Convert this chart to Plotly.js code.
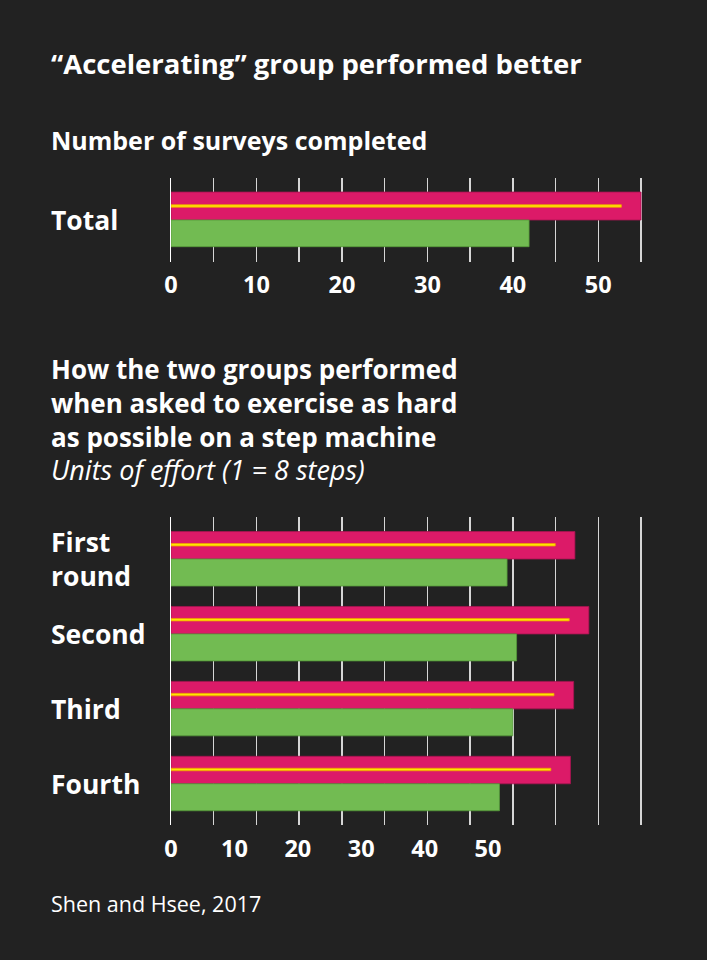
<!DOCTYPE html>
<html>
<head>
<meta charset="utf-8">
<script src="https://cdn.plot.ly/plotly-3.0.1.min.js"></script>
<style>
  html, body { margin: 0; padding: 0; background: #222222; }
  #chart { width: 707px; height: 960px; }
</style>
</head>
<body>
<div id="chart"></div>
<script>
// survey panel
var surveyCats = ['Total'];
var surveyAccel = [55];
var surveyInner = [52.7];
var surveyLinear = [41.9];
var surveyTicks = [0, 10, 20, 30, 40, 50];

// step machine panel (units of effort)
var rounds = ['First<br>round', 'Second', 'Third', 'Fourth'];
var effortAccel = [63.7, 65.9, 63.5, 63.0];
var effortInner = [60.6, 62.8, 60.4, 59.9];
var effortLinear = [53.0, 54.5, 53.9, 51.8];
var effortTicks = [0, 10, 20, 30, 40, 50];

var W = 707, H = 960;
function px(x) { return x / W; }
function py(y) { return 1 - y / H; }

var pink = '#dc1a68', green = '#72bb52', yellow = '#ffe600';
var gridCol = '#d6d6d6';
var font = '"Open Sans", Lato, sans-serif';

function bars(x, y, color, lineCol, offset, width, xa, ya) {
  return {
    type: 'bar', orientation: 'h', x: x, y: y,
    offset: offset, width: width,
    xaxis: xa, yaxis: ya,
    marker: {color: color, line: {color: lineCol, width: 0.8}},
    hoverinfo: 'x', showlegend: false
  };
}

var data = [
  bars(surveyAccel, surveyCats, pink, '#a81450', -0.335, 0.335, 'x', 'y'),
  bars(surveyLinear, surveyCats, green, '#55993a', 0, 0.32, 'x', 'y'),
  bars(surveyInner, surveyCats, yellow, '#f0a000', -0.183, 0.03, 'x', 'y'),
  bars(effortAccel, rounds, pink, '#a81450', -0.367, 0.367, 'x2', 'y2'),
  bars(effortLinear, rounds, green, '#55993a', 0, 0.36, 'x2', 'y2'),
  bars(effortInner, rounds, yellow, '#f0a000', -0.207, 0.033, 'x2', 'y2'),
  // empty trace so the gridline axis gets its own subplot
  {type: 'bar', orientation: 'h', x: [], y: [], xaxis: 'x3', yaxis: 'y2',
   hoverinfo: 'skip', showlegend: false}
];

var tickFont = {family: font, size: 23.5, color: '#ffffff', weight: 700};
var xDom = [px(171), px(645.3)];

var annotations = [
  {text: '“Accelerating” group performed better', x: px(49), y: py(64), size: 27.5, weight: 700},
  {text: 'Number of surveys completed', x: px(49), y: py(140), size: 25, weight: 700},
  {text: 'How the two groups performed<br>when asked to exercise as hard<br>as possible on a step machine',
   x: px(49), y: py(403), size: 26, weight: 700},
  {text: '<i>Units of effort (1 = 8 steps)</i>', x: px(49), y: py(469), size: 27, weight: 400},
  {text: 'Shen and Hsee, 2017', x: px(49), y: py(903), size: 21.5, weight: 400}
].map(function (a) {
  return {
    text: a.text, xref: 'paper', yref: 'paper', x: a.x, y: a.y,
    xanchor: 'left', yanchor: 'middle', align: 'left', showarrow: false,
    font: {family: font, size: a.size, color: '#ffffff', weight: a.weight}
  };
});

annotations.push({
  text: 'Total', xref: 'paper', yref: 'y', x: px(49), y: 'Total',
  xanchor: 'left', yanchor: 'middle', align: 'left', showarrow: false,
  font: {family: font, size: 26.5, color: '#ffffff', weight: 700}
});
rounds.forEach(function (r) {
  annotations.push({
    text: r, xref: 'paper', yref: 'y2', x: px(49), y: r,
    xanchor: 'left', yanchor: 'middle', align: 'left', showarrow: false,
    font: {family: font, size: 26.5, color: '#ffffff', weight: 700}
  });
});

var layout = {
  width: W, height: H,
  margin: {l: 0, r: 0, t: 0, b: 0},
  paper_bgcolor: '#222222',
  plot_bgcolor: '#222222',
  barmode: 'overlay',
  font: {family: font, color: '#ffffff'},
  xaxis: {
    domain: xDom, anchor: 'y', range: [0, 55.5],
    tickmode: 'array', tickvals: surveyTicks, ticktext: surveyTicks.map(String),
    showgrid: true, gridcolor: gridCol, gridwidth: 1.5,
    minor: {tick0: 0, dtick: 5, showgrid: true, gridcolor: gridCol, gridwidth: 1.5},
    zeroline: false, showline: false, ticks: '',
    tickfont: tickFont, ticklabelstandoff: 7, fixedrange: true
  },
  yaxis: {
    domain: [py(261.7), py(178.3)], anchor: 'x', type: 'category',
    range: [0.5, -0.5], showticklabels: false, showgrid: false, zeroline: false,
    showline: true, linecolor: '#ffffff', linewidth: 1.5, layer: 'above traces',
    fixedrange: true
  },
  xaxis2: {
    domain: xDom, anchor: 'y2', range: [0, 74.8],
    tickmode: 'array', tickvals: effortTicks, ticktext: effortTicks.map(String),
    showgrid: false, zeroline: false, showline: false, ticks: '',
    tickfont: tickFont, ticklabelstandoff: 7, fixedrange: true
  },
  xaxis3: {
    domain: xDom, anchor: 'y2', overlaying: 'x2', range: [0, 55.5], tick0: 0, dtick: 5,
    showgrid: true, gridcolor: gridCol, gridwidth: 1.5,
    showticklabels: false, zeroline: false, showline: false, ticks: '', fixedrange: true
  },
  yaxis2: {
    domain: [py(825), py(516.7)], anchor: 'x2', type: 'category',
    categoryorder: 'array', categoryarray: rounds,
    range: [3.55, -0.565], showticklabels: false, showgrid: false, zeroline: false,
    showline: true, linecolor: '#ffffff', linewidth: 1.5, layer: 'above traces',
    fixedrange: true
  },
  annotations: annotations
};

Plotly.newPlot('chart', data, layout, {displayModeBar: false, staticPlot: true});
</script>
</body>
</html>
